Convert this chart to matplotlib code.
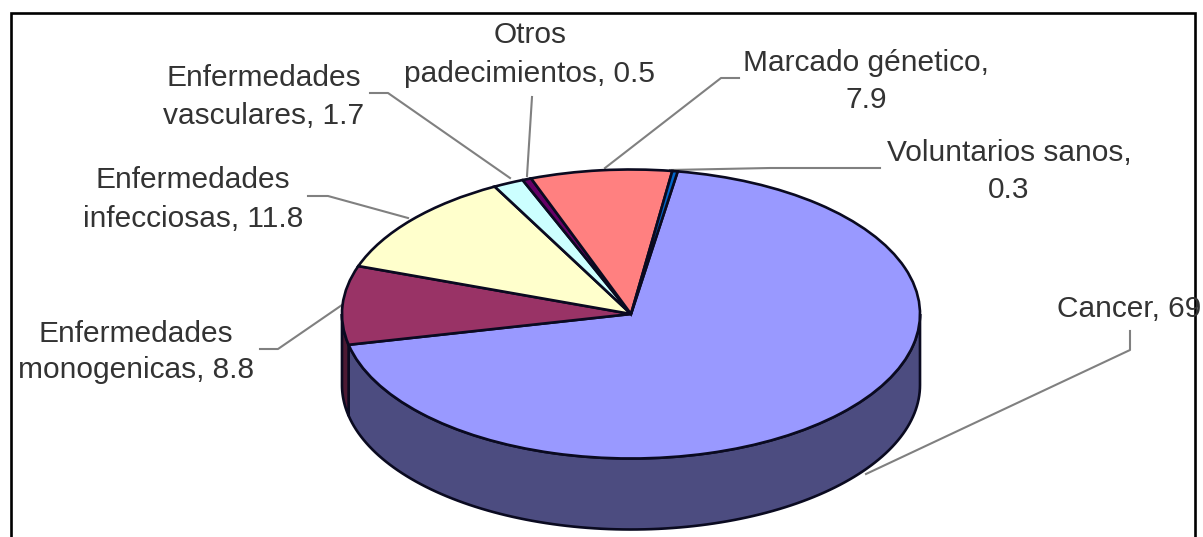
#!/usr/bin/env python3

import numpy as np
import matplotlib
matplotlib.use('Agg')
import matplotlib.pyplot as plt
from matplotlib.patches import Wedge

plt.rcParams['font.family'] = ['Liberation Sans', 'DejaVu Sans']

# clockwise from the top of the pie
categories = ['Cancer', 'Enfermedades\nmonogenicas', 'Enfermedades\ninfecciosas',
              'Enfermedades\nvasculares', 'Otros\npadecimientos',
              'Marcado génetico,\n', 'Voluntarios sanos,\n']
values = [69, 8.8, 11.8, 1.7, 0.5, 7.9, 0.3]
top_colors = ['#9999FF', '#993366', '#FFFFCC', '#CCFFFF', '#660066', '#FF8080', '#0066CC']
side_colors = ['#4C4C80', '#4C1933', '#80805F', '#668080', '#330033', '#804040', '#003366']

W, H = 1203, 537
CX, CY, RX, RY, DEPTH = 631, 314, 289, 144.5, 71
START = 80.7


def to_px(theta, drop=0):
    t = np.radians(theta)
    return CX + RX * np.cos(t), CY - RY * np.sin(t) + drop


fig = plt.figure(figsize=(W / 100, H / 100), dpi=100, facecolor='white')
ax = fig.add_axes([0, 0, 1, 1])
ax.set_xlim(0, W)
ax.set_ylim(H, 0)
ax.axis('off')

# outer frame, open at the bottom
ax.plot([11, 11, 1195, 1195], [H + 2, 13, 13, H + 2], color='black', lw=1.9,
        solid_joinstyle='miter', zorder=1)

# slice limits in degrees, running clockwise
ends = START - np.cumsum(values) * 3.6
starts = np.concatenate([[START], ends[:-1]])

# side wall: only the part of each slice on the front half of the ellipse
for hi, lo, col in zip(starts, ends, side_colors):
    a = (lo % 360)
    b = a + (hi - lo)
    a2, b2 = max(a, 180), min(b, 360)
    if b2 <= a2:
        continue
    th = np.linspace(a2, b2, 120)
    x, y0 = to_px(th)
    _, y1 = to_px(th, DEPTH)
    ax.fill(np.r_[x, x[::-1]], np.r_[y0, y1[::-1]], facecolor=col,
            edgecolor='#0A0A20', lw=1.9, zorder=2)

# top face: unit wedges squashed into the ellipse
squash = matplotlib.transforms.Affine2D().scale(RX, -RY).translate(CX, CY) + ax.transData
for hi, lo, col in zip(starts, ends, top_colors):
    ax.add_patch(Wedge((0, 0), 1, lo, hi, facecolor=col, edgecolor='#0A0A20',
                       lw=1.9, transform=squash, zorder=3))

# leader lines
leaders = [
    ([1130, 1130, 866], [331, 350, 474]),
    ([260, 278, 342], [349, 349, 305]),
    ([308, 328, 408], [196, 196, 218]),
    ([370, 388, 510], [93, 93, 178]),
    ([532, 527], [97, 176]),
    ([739, 721, 605], [78, 78, 168]),
    ([880, 770, 670], [168, 168, 170]),
]
for xs, ys in leaders:
    ax.plot(xs, ys, color='#808080', lw=1.5, zorder=2.5)

# labels: x centre, baseline of the last line, line spacing
labels = [
    (1129.5, 317, 'Cancer, 69', 1.2),
    (136, 378, 'Enfermedades\nmonogenicas, 8.8', 1.35),
    (193, 227, 'Enfermedades\ninfecciosas, 11.8', 1.49),
    (264, 124, 'Enfermedades\nvasculares, 1.7', 1.44),
    (530, 82, 'Otros\npadecimientos, 0.5', 1.49),
    (866, 108, 'Marcado génetico,\n7.9', 1.40),
    (1009, 198, 'Voluntarios sanos,\n0.3', 1.40),
]
for x, y, txt, spacing in labels:
    ax.text(x, y, txt, ha='center', va='baseline', multialignment='center', fontsize=21.5,
            color='#333333', linespacing=spacing, zorder=5)

fig.savefig('out.png', dpi=100, facecolor='white')
